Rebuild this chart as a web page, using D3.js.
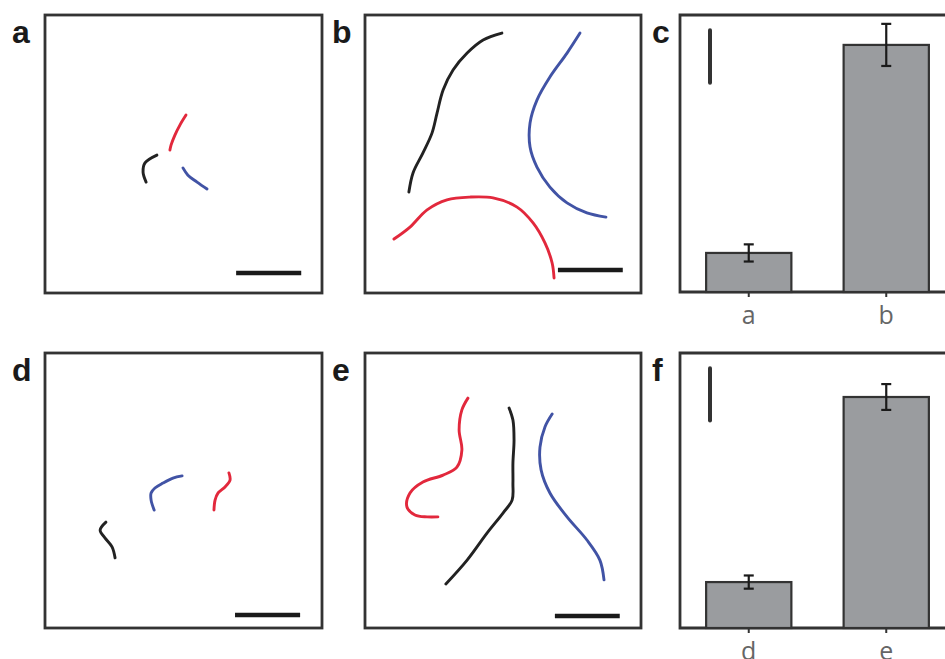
<!DOCTYPE html>
<html>
<head>
<meta charset="utf-8">
<script src="https://cdn.jsdelivr.net/npm/d3@7"></script>
<style>
  body { margin: 0; background: #fff; }
  svg { display: block; }
</style>
</head>
<body>
<div id="vis"></div>
<script>
var width = 945;
var height = 659;

// trajectories, in box units (0-100, y up)
const trackA_red = [[50.9, 64.0], [48.7, 60.4], [46.9, 56.8], [45.5, 53.2], [45.1, 51.4]];
const trackA_black = [[40.4, 49.6], [36.1, 46.8], [35.4, 43.5], [36.5, 39.9]];
const trackA_blue = [[49.8, 45.0], [51.6, 42.4], [54.9, 39.9], [58.5, 37.4]];

const trackB_black = [[15.9, 36.3], [17.4, 43.2], [21.0, 50.4], [24.3, 57.6], [26.1, 64.7], [28.3, 73.0], [31.9, 80.2], [37.0, 86.3], [42.8, 91.0], [49.6, 93.5]];
const trackB_blue = [[77.9, 93.5], [73.2, 86.3], [67.0, 77.7], [62.3, 69.4], [59.8, 61.2], [59.8, 52.5], [62.3, 45.3], [67.0, 38.1], [73.2, 32.4], [80.4, 28.8], [87.3, 27.3]];
const trackB_red = [[10.5, 19.4], [16.3, 23.7], [22.5, 29.9], [29.7, 33.5], [38.0, 34.5], [46.4, 34.2], [55.1, 30.9], [60.9, 25.2], [65.2, 18.0], [67.8, 10.8], [68.5, 5.4]];

const trackD_blue = [[49.5, 55.3], [46.2, 54.5], [42.6, 52.7], [39.7, 50.9], [38.3, 49.1], [38.3, 46.5], [39.4, 42.9]];
const trackD_red = [[66.4, 56.4], [66.8, 53.8], [65.0, 51.3], [62.5, 49.1], [61.4, 46.5], [61.0, 42.9]];
const trackD_black = [[22.0, 38.5], [19.9, 35.6], [21.7, 32.7], [24.2, 29.5], [25.3, 25.5]];

const trackE_red = [[37.3, 83.6], [35.1, 79.3], [34.1, 72.0], [35.1, 64.7], [33.3, 58.5], [28.3, 55.6], [21.0, 53.1], [16.3, 49.1], [15.2, 44.0], [18.1, 41.1], [22.5, 40.4], [26.4, 40.4]];
const trackE_black = [[52.2, 80.0], [53.6, 75.6], [54.0, 68.4], [53.6, 60.0], [53.6, 52.7], [53.3, 46.5], [50.0, 41.8], [44.2, 34.5], [37.0, 24.7], [29.3, 16.0]];
const trackE_blue = [[67.8, 77.8], [65.2, 73.1], [63.4, 65.8], [63.8, 57.5], [67.0, 49.1], [73.2, 40.4], [80.4, 32.0], [85.1, 24.7], [86.6, 17.5]];

const scaleBarLen = 23.5;

// bar panels
const barCatsTop = ["a", "b"];
const barValsTop = [14.1, 89.2];
const barErrTop = [3.1, 7.6];
const barCatsBot = ["d", "e"];
const barValsBot = [16.7, 84.0];
const barErrBot = [2.4, 4.7];
const barScaleLen = 19;

const COLORS = { red: "#e2283c", blue: "#4153a5", black: "#222222" };

var svg = d3.select("#vis").append("svg")
  .attr("width", width)
  .attr("height", height);

var trackPanels = [
  { label: "a", x: 45, y: 15, w: 277, h: 278, bar: [69.0, 7.2],
    tracks: [["red", trackA_red], ["black", trackA_black], ["blue", trackA_blue]] },
  { label: "b", x: 365, y: 15, w: 276, h: 278, bar: [69.9, 8.3],
    tracks: [["black", trackB_black], ["blue", trackB_blue], ["red", trackB_red]] },
  { label: "d", x: 45, y: 353, w: 277, h: 275, bar: [68.6, 4.7],
    tracks: [["blue", trackD_blue], ["red", trackD_red], ["black", trackD_black]] },
  { label: "e", x: 365, y: 353, w: 276, h: 275, bar: [68.8, 4.4],
    tracks: [["red", trackE_red], ["black", trackE_black], ["blue", trackE_blue]] }
];

var barPanels = [
  { label: "c", x: 680, y: 15, h: 277, cats: barCatsTop, vals: barValsTop, errs: barErrTop },
  { label: "f", x: 680, y: 353, h: 275, cats: barCatsBot, vals: barValsBot, errs: barErrBot }
];

function panelLabel(p) {
  svg.append("text")
    .attr("x", p.labelX)
    .attr("y", p.y + 28)
    .attr("font-family", "Liberation Sans, Arial, sans-serif")
    .attr("font-weight", "bold")
    .attr("font-size", 32)
    .attr("fill", "#1a1a1a")
    .text(p.label);
}

trackPanels.forEach(function (p) {
  var xs = d3.scaleLinear().domain([0, 100]).range([p.x, p.x + p.w]);
  var ys = d3.scaleLinear().domain([0, 100]).range([p.y + p.h, p.y]);
  var g = svg.append("g");

  var line = d3.line()
    .x(function (d) { return xs(d[0]); })
    .y(function (d) { return ys(d[1]); })
    .curve(d3.curveCatmullRom.alpha(0.5));

  g.selectAll(".track")
    .data(p.tracks)
    .enter()
    .append("path")
    .attr("class", "track")
    .attr("d", function (d) { return line(d[1]); })
    .attr("fill", "none")
    .attr("stroke", function (d) { return COLORS[d[0]]; })
    .attr("stroke-width", 2.9)
    .attr("stroke-linecap", "round")
    .attr("stroke-linejoin", "round");

  // scale bar
  g.append("line")
    .attr("x1", xs(p.bar[0]))
    .attr("x2", xs(p.bar[0] + scaleBarLen))
    .attr("y1", ys(p.bar[1]))
    .attr("y2", ys(p.bar[1]))
    .attr("stroke", "#1a1a1a")
    .attr("stroke-width", 4.5);

  g.append("rect")
    .attr("x", p.x)
    .attr("y", p.y)
    .attr("width", p.w)
    .attr("height", p.h)
    .attr("fill", "none")
    .attr("stroke", "#333")
    .attr("stroke-width", 2.8);

  p.labelX = p.x - 33;
  panelLabel(p);
});

barPanels.forEach(function (p) {
  var xScale = d3.scaleBand().domain(p.cats).range([p.x, p.x + 275])
    .paddingInner(0.38).paddingOuter(0.19);
  var yScale = d3.scaleLinear().domain([0, 100]).range([p.y + p.h, p.y]);
  var g = svg.append("g");

  // frame (runs off the right edge)
  g.append("path")
    .attr("d", "M" + (p.x + 320) + "," + p.y + "H" + p.x + "V" + (p.y + p.h) + "H" + (p.x + 320))
    .attr("fill", "none")
    .attr("stroke", "#333")
    .attr("stroke-width", 2.8);

  var data = p.cats.map(function (c, i) {
    return { cat: c, val: p.vals[i], err: p.errs[i] };
  });

  g.selectAll(".bar")
    .data(data)
    .enter()
    .append("rect")
    .attr("class", "bar")
    .attr("x", function (d) { return xScale(d.cat); })
    .attr("y", function (d) { return yScale(d.val); })
    .attr("width", xScale.bandwidth())
    .attr("height", function (d) { return yScale(0) - yScale(d.val); })
    .attr("fill", "#9a9c9f")
    .attr("stroke", "#333")
    .attr("stroke-width", 2.2);

  var cx = function (d) { return xScale(d.cat) + xScale.bandwidth() / 2; };

  var eb = g.selectAll(".err")
    .data(data)
    .enter()
    .append("g")
    .attr("class", "err")
    .attr("stroke", "#1a1a1a")
    .attr("stroke-width", 2.2);
  eb.append("line")
    .attr("x1", cx).attr("x2", cx)
    .attr("y1", function (d) { return yScale(d.val + d.err); })
    .attr("y2", function (d) { return yScale(d.val - d.err); });
  [1, -1].forEach(function (s) {
    eb.append("line")
      .attr("x1", function (d) { return cx(d) - 5; })
      .attr("x2", function (d) { return cx(d) + 5; })
      .attr("y1", function (d) { return yScale(d.val + s * d.err); })
      .attr("y2", function (d) { return yScale(d.val + s * d.err); });
  });

  // x axis ticks + labels
  g.selectAll(".tick")
    .data(data)
    .enter()
    .append("line")
    .attr("x1", cx).attr("x2", cx)
    .attr("y1", yScale(0))
    .attr("y2", yScale(0) + 5)
    .attr("stroke", "#333")
    .attr("stroke-width", 2);

  g.selectAll(".cat")
    .data(data)
    .enter()
    .append("text")
    .attr("x", cx)
    .attr("y", yScale(0) + 32)
    .attr("text-anchor", "middle")
    .attr("font-family", "Open Sans, sans-serif")
    .attr("font-size", 25)
    .attr("fill", "#666")
    .text(function (d) { return d.cat; });

  // vertical scale bar
  g.append("line")
    .attr("x1", p.x + 30).attr("x2", p.x + 30)
    .attr("y1", yScale(94.5))
    .attr("y2", yScale(94.5 - barScaleLen))
    .attr("stroke", "#333")
    .attr("stroke-width", 4)
    .attr("stroke-linecap", "round");

  p.labelX = p.x - 28;
  panelLabel(p);
});
</script>
</body>
</html>
